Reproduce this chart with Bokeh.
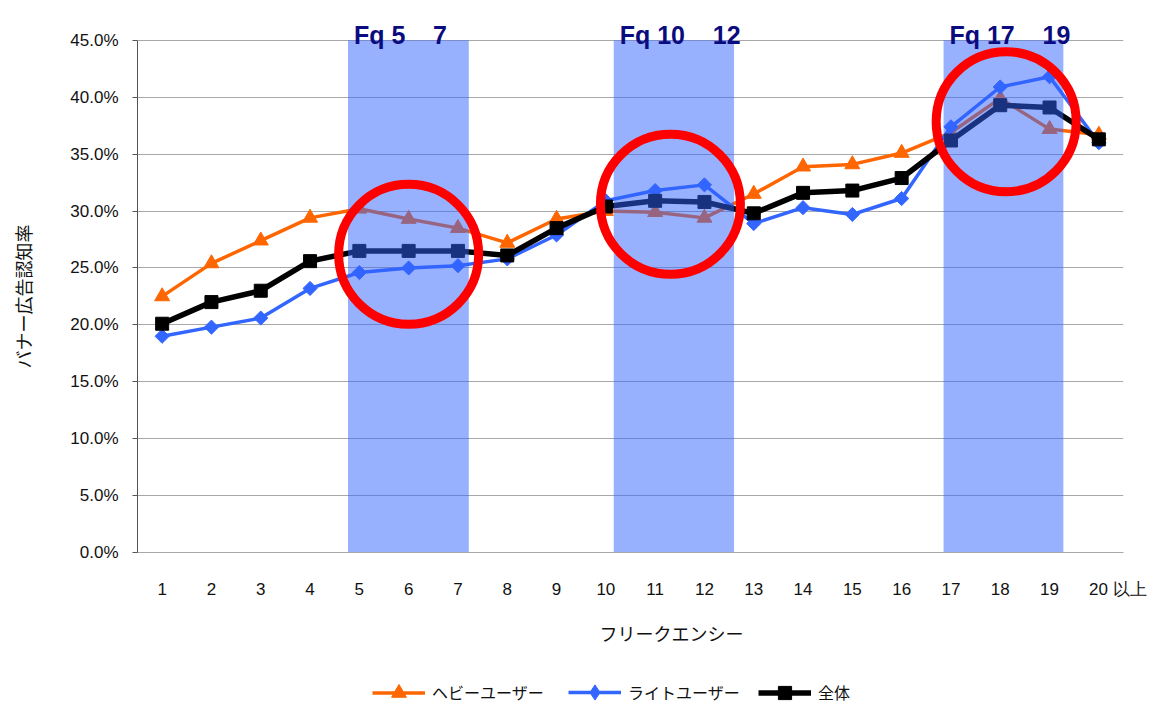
from bokeh.plotting import figure
from bokeh.layouts import column
from bokeh.models import (Range1d, FixedTicker, PrintfTickFormatter, Legend,
                          LegendItem, ColumnDataSource)
from bokeh.embed import file_html
from bokeh.resources import INLINE
from bokeh.core.properties import value

# ---- data (percent) ----
freq = list(range(1, 21))
freq_labels = [str(i) for i in freq]
last_suffix = "以上"
heavy = [22.5, 25.4, 27.4, 29.4, 30.2, 29.3, 28.5, 27.2, 29.3, 30.0,
         29.9, 29.4, 31.5, 33.9, 34.1, 35.1, 36.9, 39.9, 37.2, 36.7]
light = [19.0, 19.8, 20.6, 23.2, 24.6, 25.0, 25.2, 25.8, 27.9, 30.9,
         31.8, 32.3, 28.9, 30.3, 29.7, 31.1, 37.4, 40.9, 41.8, 36.0]
total = [20.1, 22.0, 23.0, 25.6, 26.5, 26.5, 26.5, 26.1, 28.5, 30.4,
         30.9, 30.8, 29.8, 31.6, 31.8, 32.9, 36.2, 39.3, 39.1, 36.3]
series_names = ["ヘビーユーザー", "ライトユーザー", "全体"]
y_ticks = [0, 5, 10, 15, 20, 25, 30, 35, 40, 45]

# highlighted frequency groups
NB = "\u00a0"
band_labels = ["Fq 5" + NB * 4 + "7", "Fq 10" + NB * 4 + "12", "Fq 17" + NB * 4 + "19"]
band_from = [4.77, 10.16, 16.85]
band_to = [7.22, 12.6, 19.28]
ring_x = [6.0, 11.31, 18.12]
ring_y = [26.2, 30.6, 37.85]

JP = "Noto Sans CJK JP"
LAT = "Liberation Sans"
W = 1153
LEFT, RIGHT = 137, 30

C_HEAVY, C_LIGHT, C_TOTAL = "#FF6600", "#3366FF", "#000000"

# ================= main plot =================
p = figure(width=W, height=610, output_backend="svg", toolbar_location=None,
           x_range=Range1d(0.5, 20.5), y_range=Range1d(0, 48.5),
           min_border_left=LEFT, min_border_top=0, min_border_right=RIGHT,
           min_border_bottom=58)
p.outline_line_color = None
p.border_fill_color = "white"

p.xgrid.grid_line_color = None
p.ygrid.grid_line_color = "#A8A8A8"
p.ygrid.grid_line_width = 1
p.ygrid.ticker = FixedTicker(ticks=y_ticks)

p.yaxis.ticker = FixedTicker(ticks=y_ticks)
p.yaxis.bounds = (0, 45)
p.yaxis.formatter = PrintfTickFormatter(format="%.1f%%")
p.yaxis.major_label_text_font = LAT
p.yaxis.major_label_text_font_size = "17px"
p.yaxis.major_label_text_color = "#111111"
p.yaxis.major_tick_out = 5
p.yaxis.major_tick_in = 0
p.yaxis.minor_tick_line_color = None
p.yaxis.axis_line_color = "#555555"
p.yaxis.major_tick_line_color = "#555555"
p.yaxis.major_label_standoff = 14
# trailing ideographic spaces keep the title centred on the 0-45% span
p.yaxis.axis_label = "バナー広告認知率" + "\u3000\u3000" + NB
p.yaxis.axis_label_text_font = JP
p.yaxis.axis_label_text_font_size = "18px"
p.yaxis.axis_label_text_font_style = "normal"
p.yaxis.axis_label_text_color = "#111111"
p.yaxis.axis_label_standoff = 31

overrides = {f: s for f, s in zip(freq, freq_labels)}
overrides[freq[-1]] = NB * 8 + freq_labels[-1] + NB + last_suffix
p.xaxis.ticker = FixedTicker(ticks=freq)
p.xaxis.major_label_overrides = overrides
p.xaxis.major_label_text_font = LAT
p.xaxis.major_label_text_font_size = "17px"
p.xaxis.major_label_text_color = "#111111"
p.xaxis.major_tick_line_color = None
p.xaxis.minor_tick_line_color = None
p.xaxis.axis_line_color = "#A8A8A8"
p.xaxis.major_label_standoff = 21

src = ColumnDataSource(dict(x=freq, heavy=heavy, light=light, total=total))

p.line("x", "heavy", source=src, line_color=C_HEAVY, line_width=3.5)
p.scatter("x", "heavy", source=src, marker="triangle", size=15,
          fill_color=C_HEAVY, line_color=C_HEAVY)
p.line("x", "light", source=src, line_color=C_LIGHT, line_width=3.5)
p.scatter("x", "light", source=src, marker="square", angle=0.785398, size=10,
          fill_color=C_LIGHT, line_color=C_LIGHT)
p.line("x", "total", source=src, line_color=C_TOTAL, line_width=5.5)
p.scatter("x", "total", source=src, marker="square", size=13,
          fill_color=C_TOTAL, line_color=C_TOTAL)

# translucent highlight bands drawn over the lines
p.quad(left=band_from, right=band_to, bottom=0, top=45,
       fill_color="#3264FF", fill_alpha=0.5, line_color=None)

# red rings
p.scatter(ring_x, ring_y, marker="circle", size=140, fill_color=None,
          line_color="#FF0000", line_width=9)

# band titles above the 45% line
p.text(x=[b + 0.12 for b in band_from], y=[45.43] * 3, text=band_labels,
       text_font=value(LAT), text_font_style="bold", text_font_size="25px",
       text_color="#0B0B80", text_baseline="alphabetic", text_align="left")

# ================= bottom strip: axis title + legend =================
bot = figure(width=W, height=94, output_backend="svg", toolbar_location=None,
             x_range=Range1d(LEFT, W - RIGHT), y_range=Range1d(0, 94),
             x_axis_type=None, y_axis_type=None,
             min_border_left=LEFT, min_border_right=RIGHT,
             min_border_top=0, min_border_bottom=0)
bot.outline_line_color = None
bot.grid.visible = False
bot.text(x=[671], y=[72], text=["フリークエンシー"], text_font=value(JP),
         text_font_size="18px", text_color="#111111",
         text_align="center", text_baseline="middle")

# legend swatches: renderers parked outside the visible range, used only for the key
off = dict(x=[-1000], y=[-1000])
lg_h = [bot.line(**off, line_color=C_HEAVY, line_width=3.5),
        bot.scatter(**off, marker="triangle", fill_color=C_HEAVY, line_color=C_HEAVY)]
lg_l = [bot.line(**off, line_color=C_LIGHT, line_width=3.5),
        bot.scatter(**off, marker="diamond", fill_color=C_LIGHT, line_color=C_LIGHT)]
lg_t = [bot.line(**off, line_color=C_TOTAL, line_width=5.5),
        bot.scatter(**off, marker="square", fill_color=C_TOTAL, line_color=C_TOTAL)]

for name, rends, gx, gh in zip(series_names, [lg_h, lg_l, lg_t],
                               [372, 568, 758], [37, 38, 33]):
    lg = Legend(items=[LegendItem(label=name, renderers=rends)],
                location=(gx - LEFT, 12 - gh / 2), padding=0, margin=0,
                glyph_width=53, glyph_height=gh, label_height=20,
                label_standoff=7, label_text_font=JP,
                label_text_font_size="16px", label_text_color="#111111",
                border_line_color=None, background_fill_alpha=0)
    bot.add_layout(lg, "center")

layout = column(p, bot, spacing=0)
open("out.html", "w").write(file_html(layout, INLINE))
